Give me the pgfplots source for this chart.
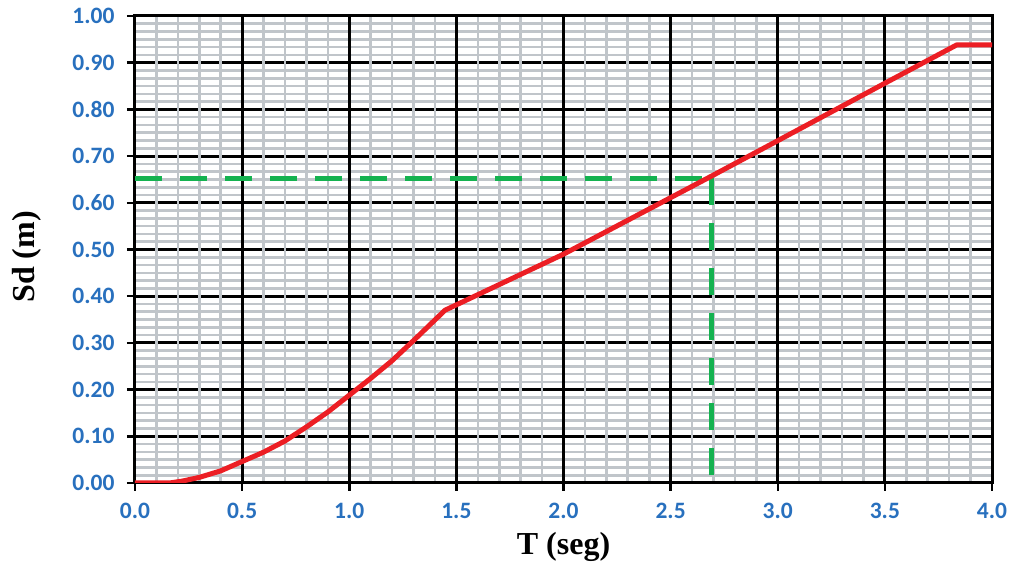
\documentclass[border=0pt]{standalone}
\usepackage{fontspec}
\setmainfont{Carlito}
\newfontfamily\labfont{Liberation Serif}
\usepackage{pgfplots}
\pgfplotsset{compat=1.18}
\definecolor{tickblue}{RGB}{40,112,190}
\definecolor{gridgray}{RGB}{192,197,202}
\definecolor{curvered}{RGB}{236,30,36}
\definecolor{dgreen}{RGB}{20,178,80}
\pgfplotstableread{
x y
0 0
0.16 0
0.22 0.004
0.3 0.012
0.4 0.026
0.5 0.046
0.6 0.066
0.7 0.09
0.8 0.12
0.9 0.152
1.0 0.188
1.1 0.224
1.2 0.262
1.3 0.305
1.447 0.37
2.0 0.49
2.69 0.657
3.0 0.733
3.5 0.856
3.835 0.938
4.0 0.938
}\curve
\begin{document}
\begin{tikzpicture}
\pgfplotsset{common/.style={
  scale only axis, width=857pt, height=467pt,
  xmin=0, xmax=4, ymin=0, ymax=1,
  xtick={0,0.5,1,1.5,2,2.5,3,3.5,4},
  ytick={0,0.1,0.2,0.3,0.4,0.5,0.6,0.7,0.8,0.9,1.0},
  at={(0pt,0pt)}, anchor=south west,
  major grid style={black, line width=3pt},
  minor grid style={gridgray, line width=2.6pt},
  minor tick length=0pt,
}}
% horizontal grid lines (drawn first)
\begin{axis}[common,
  xtick=\empty, yticklabels={}, major tick length=0pt,
  ymajorgrids, yminorgrids, minor y tick num=5,
  axis line style={draw=none},
]
\end{axis}
% vertical grid, frame, ticks, labels, data
\begin{axis}[common, name=ax,
  xmajorgrids, xminorgrids, minor x tick num=4,
  axis line style={black, line width=3pt},
  tick style={black, line width=2.5pt},
  major tick length=8pt, tick align=outside,
  xtick pos=left, ytick pos=left,
  /pgf/number format/assume math mode=true,
  tick label style={text=tickblue, font=\fontsize{23.5}{23.5}\selectfont\bfseries},
  xticklabel style={/pgf/number format/.cd, fixed, fixed zerofill, precision=1, /tikz/.cd, yshift=-9pt},
  yticklabel style={/pgf/number format/.cd, fixed, fixed zerofill, precision=2, /tikz/.cd, xshift=-9pt},
  xlabel={T (seg)}, ylabel={Sd (m)},
  label style={font=\labfont\bfseries\fontsize{32}{32}\selectfont, text=black},
  xlabel style={at={(axis description cs:0.5,-0.154)}, anchor=base},
  ylabel style={at={(axis description cs:-0.1167,0.484)}, anchor=base, rotate=0},
]
\addplot[dgreen, line width=5pt, dash pattern=on 27pt off 18pt] coordinates {(0,0.653) (2.69,0.653)};
\addplot[dgreen, line width=5pt, dash pattern=on 27pt off 18pt] coordinates {(2.69,0.653) (2.69,0)};
\addplot[curvered, line width=5pt, line join=round, line cap=round] table {\curve};
\end{axis}
\useasboundingbox ([xshift=-135pt,yshift=-79pt]ax.south west) rectangle ([xshift=21pt,yshift=16pt]ax.north east);
\end{tikzpicture}
\end{document}
